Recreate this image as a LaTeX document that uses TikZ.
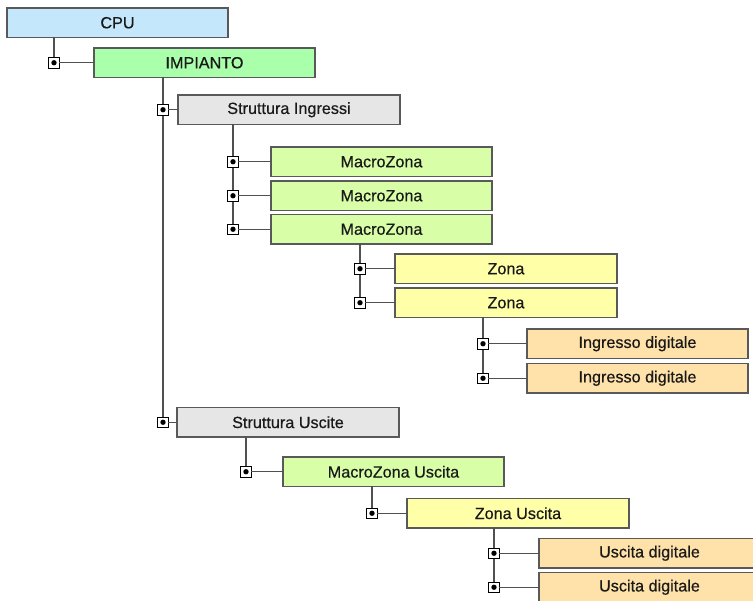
\documentclass[tikz,border=0pt]{standalone}
\usepackage{fontspec}
\setmainfont{Liberation Sans}
\newfontfamily\boxfont[FakeBold=0.5]{Liberation Sans}
\definecolor{cpuc}{RGB}{196,231,251}
\definecolor{impc}{RGB}{170,255,170}
\definecolor{strc}{RGB}{230,230,230}
\definecolor{mzc}{RGB}{216,255,168}
\definecolor{zc}{RGB}{255,255,168}
\definecolor{dc}{RGB}{255,226,170}
\definecolor{linec}{RGB}{80,80,80}
\tikzset{
  box/.style={rectangle, draw=black!65, line width=1.3pt, anchor=north west,
    inner sep=0pt, outer sep=0pt, minimum height=29.5pt,
    font=\boxfont\fontsize{16.2}{18}\selectfont, text=black!90},
  sq/.style={rectangle, draw=black, line width=0.9pt, fill=white,
    minimum size=10.5pt, inner sep=0pt, outer sep=0pt,
    path picture={\fill[black] (path picture bounding box.center) circle (2.7pt);}},
  conn/.style={draw=linec, line width=1.2pt}
}
\begin{document}
\begin{tikzpicture}[x=1pt,y=-1pt]
\useasboundingbox (0,0) rectangle (753,601);
\clip (0,0) rectangle (753,601);
% boxes
\node[box, fill=cpuc, minimum width=221pt] (cpu) at (7,8) {CPU};
\node[box, fill=impc, minimum width=221pt] (imp) at (94,48) {IMPIANTO};
\node[box, fill=strc, minimum width=222pt] (si) at (178,95) {Struttura Ingressi};
\node[box, fill=mzc, minimum width=221pt] (mz1) at (271,147) {MacroZona};
\node[box, fill=mzc, minimum width=221pt] (mz2) at (271,181) {MacroZona};
\node[box, fill=mzc, minimum width=221pt] (mz3) at (271,214.5) {MacroZona};
\node[box, fill=zc, minimum width=222pt] (z1) at (395,254) {Zona};
\node[box, fill=zc, minimum width=222pt] (z2) at (395,288) {Zona};
\node[box, fill=dc, minimum width=221pt] (id1) at (527,329) {Ingresso digitale};
\node[box, fill=dc, minimum width=221pt] (id2) at (527,363.5) {Ingresso digitale};
\node[box, fill=strc, minimum width=222pt] (su) at (177,407.5) {Struttura Uscite};
\node[box, fill=mzc, minimum width=221pt] (mzu) at (283,457) {MacroZona Uscita};
\node[box, fill=zc, minimum width=222pt] (zu) at (407,498.5) {Zona Uscita};
\node[box, fill=dc, minimum width=228pt] (ud1) at (539,538.5) {\hspace*{-7pt}Uscita digitale};
\node[box, fill=dc, minimum width=228pt] (ud2) at (539,572.5) {\hspace*{-7pt}Uscita digitale};
% connector positions
\coordinate (a1) at (54,0);
\coordinate (a2) at (163,0);
\coordinate (a3) at (233,0);
\coordinate (a4) at (360,0);
\coordinate (a5) at (483,0);
\coordinate (a6) at (246,0);
\coordinate (a7) at (372,0);
\coordinate (a8) at (494,0);
% vertical trunks
\path[conn] (cpu.south -| a1) -- (a1 |- imp.west);
\path[conn] (imp.south -| a2) -- (a2 |- su.west);
\path[conn] (si.south -| a3) -- (a3 |- mz3.west);
\path[conn] (mz3.south -| a4) -- (a4 |- z2.west);
\path[conn] (z2.south -| a5) -- (a5 |- id2.west);
\path[conn] (su.south -| a6) -- (a6 |- mzu.west);
\path[conn] (mzu.south -| a7) -- (a7 |- zu.west);
\path[conn] (zu.south -| a8) -- (a8 |- ud2.west);
% squares
\node[sq] (s1) at (a1 |- imp.west) {};
\node[sq] (s2) at (a2 |- si.west) {};
\node[sq] (s3) at (a2 |- su.west) {};
\node[sq] (s4) at (a3 |- mz1.west) {};
\node[sq] (s5) at (a3 |- mz2.west) {};
\node[sq] (s6) at (a3 |- mz3.west) {};
\node[sq] (s7) at (a4 |- z1.west) {};
\node[sq] (s8) at (a4 |- z2.west) {};
\node[sq] (s9) at (a5 |- id1.west) {};
\node[sq] (s10) at (a5 |- id2.west) {};
\node[sq] (s11) at (a6 |- mzu.west) {};
\node[sq] (s12) at (a7 |- zu.west) {};
\node[sq] (s13) at (a8 |- ud1.west) {};
\node[sq] (s14) at (a8 |- ud2.west) {};
% horizontal links
\path[conn] (s1) -- (imp);
\path[conn] (s2) -- (si);
\path[conn] (s3) -- (su);
\path[conn] (s4) -- (mz1);
\path[conn] (s5) -- (mz2);
\path[conn] (s6) -- (mz3);
\path[conn] (s7) -- (z1);
\path[conn] (s8) -- (z2);
\path[conn] (s9) -- (id1);
\path[conn] (s10) -- (id2);
\path[conn] (s11) -- (mzu);
\path[conn] (s12) -- (zu);
\path[conn] (s13) -- (ud1);
\path[conn] (s14) -- (ud2);
\end{tikzpicture}
\end{document}
